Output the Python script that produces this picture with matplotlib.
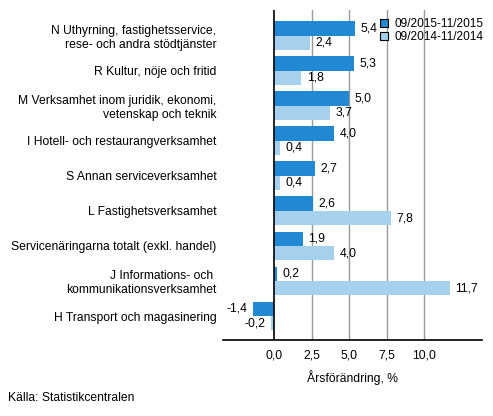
import numpy as np
from matplotlib import pyplot as plt
from matplotlib.patches import Patch

plt.rcParams['font.family'] = ['Liberation Sans', 'DejaVu Sans']
plt.rcParams['font.size'] = 8.7

# data
categories = [
    "N Uthyrning, fastighetsservice,\nrese- och andra stödtjänster",
    "R Kultur, nöje och fritid",
    "M Verksamhet inom juridik, ekonomi,\nvetenskap och teknik",
    "I Hotell- och restaurangverksamhet",
    "S Annan serviceverksamhet",
    "L Fastighetsverksamhet",
    "Servicenäringarna totalt (exkl. handel)",
    "J Informations- och \nkommunikationsverksamhet",
    "H Transport och magasinering",
]
serie_2015 = [5.4, 5.3, 5.0, 4.0, 2.7, 2.6, 1.9, 0.2, -1.4]
serie_2014 = [2.4, 1.8, 3.7, 0.4, 0.4, 7.8, 4.0, 11.7, -0.2]
series_names = ["09/2015-11/2015", "09/2014-11/2014"]
xticks = [0, 2.5, 5, 7.5, 10]

dark = "#2188d3"
light = "#a5d1ef"

fig = plt.figure(figsize=(4.93, 4.16), dpi=100)
ax = fig.add_axes([0.453, 0.183, 0.525, 0.793])

y = np.arange(len(categories))
h = 0.41
ax.barh(y - h / 2, serie_2015, height=h, color=dark, zorder=3)
ax.barh(y + h / 2, serie_2014, height=h, color=light, zorder=3)

# värden
for yy, v in zip(y - h / 2, serie_2015):
    txt = f"{v:.1f}".replace(".", ",")
    if v >= 0:
        ax.annotate(txt, (v, yy), xytext=(4, 0), textcoords="offset points", va="center", ha="left")
    else:
        ax.annotate(txt, (v, yy), xytext=(-4, 0), textcoords="offset points", va="center", ha="right")
for yy, v in zip(y + h / 2, serie_2014):
    txt = f"{v:.1f}".replace(".", ",")
    if v >= 0:
        ax.annotate(txt, (v, yy), xytext=(4, 0), textcoords="offset points", va="center", ha="left")
    else:
        ax.annotate(txt, (v, yy), xytext=(-4, 0), textcoords="offset points", va="center", ha="right")

ax.set_xlim(-3.4, 13.87)
ax.set_ylim(8.68, -0.73)
ax.set_yticks(y)
ax.set_yticklabels(categories)
ax.set_xticks(xticks)
ax.set_xticklabels([f"{t:.1f}".replace(".", ",") for t in xticks])
ax.tick_params(axis="both", length=0)
ax.tick_params(axis="y", pad=5)
ax.tick_params(axis="x", pad=7)

for t in xticks[1:]:
    ax.axvline(t, color="#999999", lw=1, zorder=1)
ax.axvline(0, color="black", lw=1.2, zorder=4)

for s in ["left", "right", "top"]:
    ax.spines[s].set_visible(False)
ax.spines["bottom"].set_linewidth(1.2)

ax.set_xlabel("Årsförändring, %", labelpad=6)

handles = [Patch(facecolor=dark, edgecolor="black", lw=0.8),
           Patch(facecolor=light, edgecolor="black", lw=0.8)]
fig.legend(handles, series_names, loc="upper left", bbox_to_anchor=(0.770, 0.957),
           frameon=False, handlelength=0.7, handleheight=0.7, handletextpad=0.55,
           labelspacing=0.12, borderpad=0, borderaxespad=0, fontsize=8.6)

fig.text(0.016, 0.043, "Källa: Statistikcentralen", va="center", ha="left")

fig.savefig("out.png", dpi=100)
